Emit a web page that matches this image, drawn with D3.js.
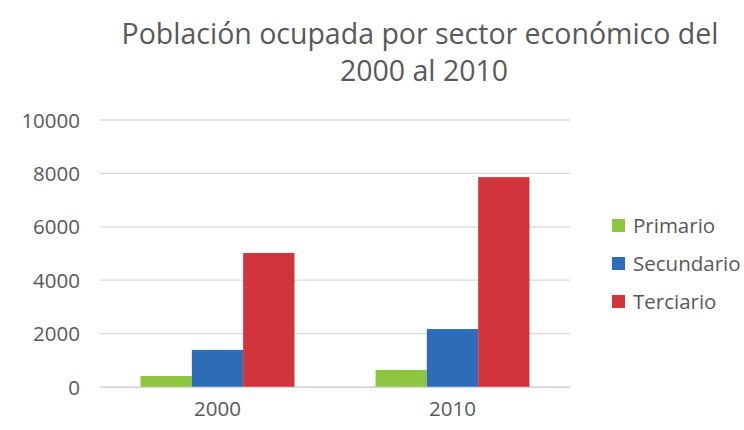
<!DOCTYPE html>
<html>
<head>
<meta charset="utf-8">
<script src="https://cdn.jsdelivr.net/npm/d3@7"></script>
<style>
  body { margin: 0; background: #fff; }
  text { font-family: "Open Sans", sans-serif; fill: #595959; }
</style>
</head>
<body>
<div id="chart"></div>
<script>
// datos
const years = ["2000", "2010"];
const sectors = ["Primario", "Secundario", "Terciario"];
const primario = [410, 640];
const secundario = [1390, 2170];
const terciario = [5020, 7860];
const yTicks = [0, 2000, 4000, 6000, 8000, 10000];
const colors = ["#8cc63e", "#2f6cb8", "#d1353b"];

const rows = years.map((y, i) => ({
    year: y,
    values: [primario[i], secundario[i], terciario[i]]
}));

const W = 744, H = 430;
const margin = { top: 120, right: 174, bottom: 43, left: 100 };
const width = W - margin.left - margin.right;
const height = H - margin.top - margin.bottom;

const svg = d3.select("#chart").append("svg")
    .attr("width", W).attr("height", H);

// título
svg.append("text")
    .attr("x", 420).attr("y", 44)
    .attr("text-anchor", "middle")
    .style("font-size", "28.5px")
    .text("Población ocupada por sector económico del");
svg.append("text")
    .attr("x", 424).attr("y", 81)
    .attr("text-anchor", "middle")
    .style("font-size", "28.5px")
    .text("2000 al 2010");

const g = svg.append("g")
    .attr("transform", `translate(${margin.left},${margin.top})`);

const x0 = d3.scaleBand().domain(years).range([0, width])
    .paddingInner(0.345).paddingOuter(0.1725);
const x1 = d3.scaleBand().domain(sectors).range([0, x0.bandwidth()]);
const y = d3.scaleLinear().domain([0, 10000]).range([height, 0]);
const color = d3.scaleOrdinal().domain(sectors).range(colors);

// líneas de cuadrícula
g.selectAll(".grid")
    .data(yTicks)
    .enter().append("line")
    .attr("x1", 0).attr("x2", width)
    .attr("y1", d => y(d)).attr("y2", d => y(d))
    .attr("stroke", "#d9d9d9")
    .attr("stroke-width", 1.3);

// eje y
const yAxis = g.append("g")
    .call(d3.axisLeft(y).tickValues(yTicks).tickFormat(d3.format("d"))
        .tickSize(0).tickPadding(20));
yAxis.select(".domain").remove();
yAxis.selectAll("text").style("font-size", "20.5px").attr("dy", "0.35em");

// barras
g.selectAll(".group")
    .data(rows)
    .enter().append("g")
    .attr("transform", d => `translate(${x0(d.year)},0)`)
    .selectAll("rect")
    .data(d => d.values.map((v, i) => ({ key: sectors[i], value: v })))
    .enter().append("rect")
    .attr("x", d => x1(d.key))
    .attr("width", x1.bandwidth())
    .attr("y", d => y(d.value))
    .attr("height", d => height - y(d.value))
    .attr("fill", d => color(d.key));

// eje x
const xAxis = g.append("g")
    .attr("transform", `translate(0,${height})`)
    .call(d3.axisBottom(x0).tickSize(0).tickPadding(14));
xAxis.select(".domain").attr("stroke", "#d9d9d9").attr("stroke-width", 1.3);
xAxis.selectAll("text").style("font-size", "20.5px");

// leyenda
const legend = svg.selectAll(".legend")
    .data(sectors)
    .enter().append("g")
    .attr("transform", (d, i) => `translate(612,${219 + i * 38})`);

legend.append("rect")
    .attr("width", 13).attr("height", 13)
    .attr("fill", d => color(d));

legend.append("text")
    .attr("x", 21).attr("y", 7)
    .attr("dy", "0.35em")
    .style("font-size", "20.5px")
    .text(d => d);
</script>
</body>
</html>
